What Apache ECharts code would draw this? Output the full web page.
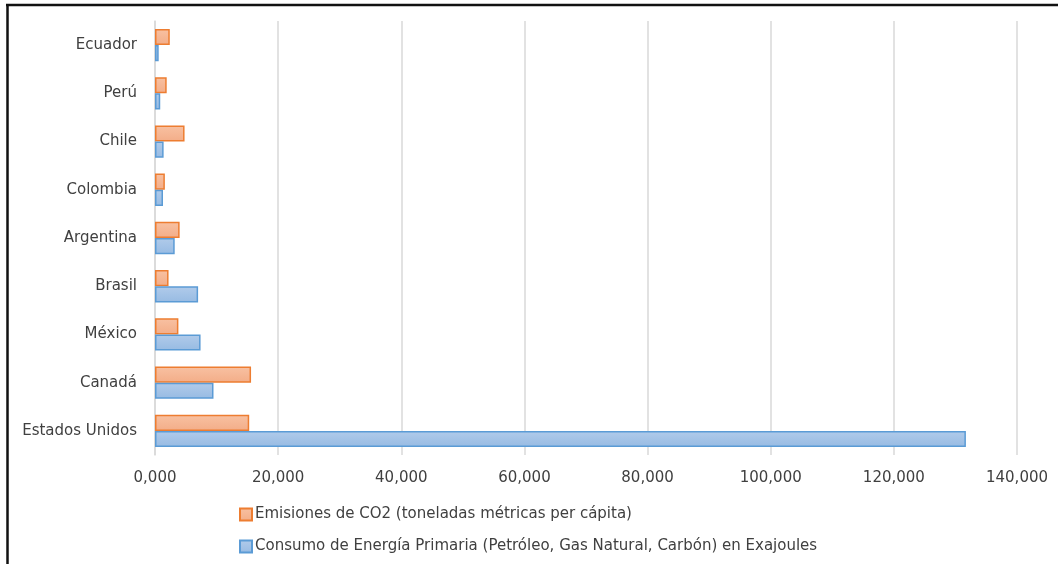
<!DOCTYPE html>
<html>
<head>
<meta charset="utf-8">
<script src="https://cdn.jsdelivr.net/npm/echarts@6/dist/echarts.min.js"></script>
<style>
html,body{margin:0;padding:0;background:#fff;}
#c{width:1058px;height:564px;}
</style>
</head>
<body>
<div id="c"></div>
<script>
const categories = ['Estados Unidos','Canadá','México','Brasil','Argentina','Colombia','Chile','Perú','Ecuador'];
const seriesNames = ['Emisiones de CO2 (toneladas métricas per cápita)','Consumo de Energía Primaria (Petróleo, Gas Natural, Carbón) en Exajoules'];
const emisiones = [15300, 15600, 3800, 2200, 4000, 1600, 4800, 1900, 2400];
const consumo = [131700, 9500, 7400, 7000, 3200, 1300, 1400, 850, 600];
const tickLabels = ['0,000','20,000','40,000','60,000','80,000','100,000','120,000','140,000'];

const font = 'DejaVu Sans';
const chart = echarts.init(document.getElementById('c'));
function grad(a,b){return new echarts.graphic.LinearGradient(0,0,0,1,[{offset:0,color:a},{offset:1,color:b}]);}
chart.setOption({
  animation:false,
  backgroundColor:'#fff',
  grid:{left:155,right:41,top:21,bottom:109,containLabel:false},
  xAxis:{
    type:'value',min:0,max:140000,interval:20000,
    axisLine:{show:false},axisTick:{show:false},
    splitLine:{show:true,lineStyle:{color:'#D9D9D9',width:1.5}},
    axisLabel:{margin:16,color:'#404040',fontFamily:font,fontSize:15,
      formatter:function(v){return tickLabels[Math.round(v/20000)];}}
  },
  yAxis:{
    type:'category',data:categories,
    axisLine:{show:true,lineStyle:{color:'#D9D9D9',width:1.5}},
    axisTick:{show:false},
    axisLabel:{margin:18,color:'#404040',fontFamily:font,fontSize:15}
  },
  legend:{
    orient:'vertical',left:234,top:502,itemGap:17,itemWidth:12,itemHeight:12,
    data:[seriesNames[0],seriesNames[1]],
    textStyle:{color:'#404040',fontFamily:font,fontSize:15,padding:[0,0,0,-2]},
    icon:'rect'
  },
  series:[
    {name:seriesNames[0],type:'bar',data:emisiones,barGap:'0%',barCategoryGap:'33%',
      itemStyle:{color:grad('#F8C1A2','#F3AD88'),borderColor:'#ED7D31',borderWidth:1.5}},
    {name:seriesNames[1],type:'bar',data:consumo,barGap:'0%',barCategoryGap:'33%',
      itemStyle:{color:grad('#B1CBEA','#97BBE3'),borderColor:'#5B9BD5',borderWidth:1.5}}
  ],
  graphic:[
    {type:'line',shape:{x1:6,y1:5,x2:1058,y2:5},style:{stroke:'#111',lineWidth:2.5},silent:true},
    {type:'line',shape:{x1:7.5,y1:4,x2:7.5,y2:564},style:{stroke:'#111',lineWidth:2.5},silent:true}
  ]
});
</script>
</body>
</html>
